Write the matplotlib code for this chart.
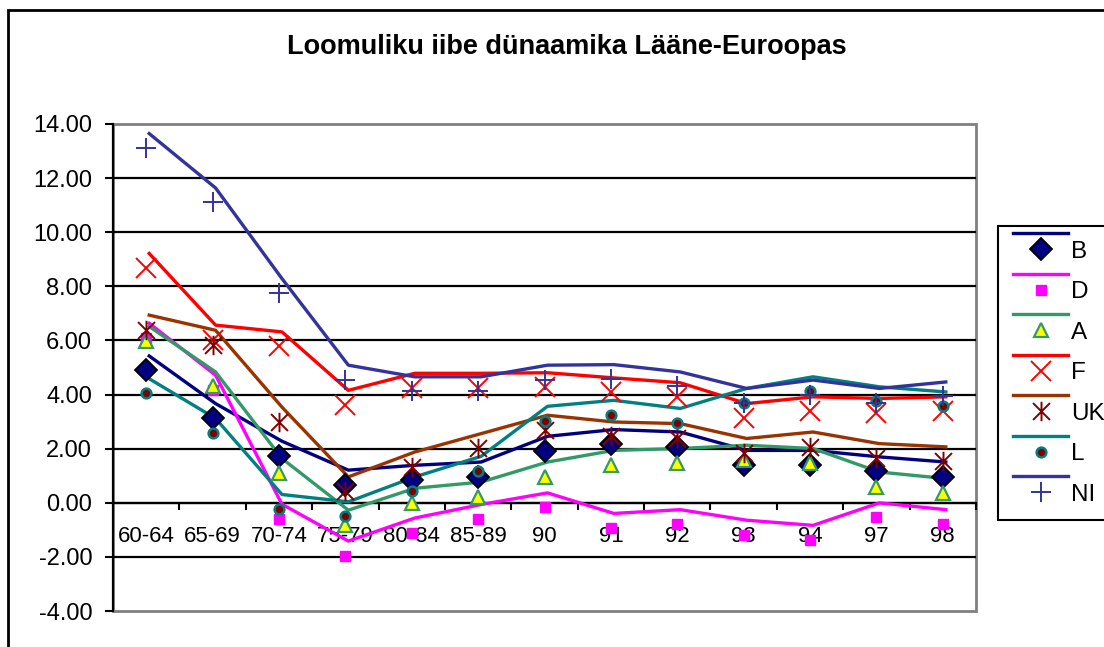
import matplotlib
matplotlib.use("Agg")
import matplotlib.pyplot as plt
import matplotlib.transforms as mtransforms
from matplotlib.lines import Line2D
from matplotlib.path import Path
from matplotlib.patches import Rectangle
from matplotlib.legend_handler import HandlerBase
from matplotlib.ticker import FormatStrFormatter, FixedLocator

plt.rcParams['font.family'] = ['Liberation Sans', 'DejaVu Sans']
plt.rcParams['axes.unicode_minus'] = False

title = "Loomuliku iibe dünaamika Lääne-Euroopas"
categories = ["60-64", "65-69", "70-74", "75-79", "80-84", "85-89",
              "90", "91", "92", "93", "94", "97", "98"]

B  = [4.89, 3.13, 1.74, 0.67, 0.85, 0.97, 1.92, 2.17, 2.08, 1.40, 1.40, 1.16, 0.97]
D  = [6.10, 4.18, -0.59, -1.95, -1.10, -0.60, -0.17, -0.93, -0.79, -1.18, -1.37, -0.54, -0.79]
A  = [5.98, 4.30, 1.10, -0.81, 0.00, 0.23, 0.97, 1.40, 1.47, 1.59, 1.47, 0.60, 0.36]
F  = [8.68, 6.03, 5.78, 3.62, 4.25, 4.25, 4.27, 4.08, 3.90, 3.13, 3.38, 3.32, 3.38]
UK = [6.40, 5.84, 3.00, 0.42, 1.34, 2.02, 2.70, 2.45, 2.39, 1.84, 2.08, 1.65, 1.53]
L  = [4.05, 2.58, -0.23, -0.50, 0.42, 1.18, 3.03, 3.25, 2.95, 3.69, 4.12, 3.75, 3.56]
NI = [13.11, 11.10, 7.75, 4.55, 4.12, 4.12, 4.55, 4.57, 4.30, 3.69, 4.00, 3.69, 3.93]

series_names = ["B", "D", "A", "F", "UK", "L", "NI"]
series_values = [B, D, A, F, UK, L, NI]

# asterisk marker: X with vertical bar
ast_path = Path([(-1, -1), (1, 1), (-1, 1), (1, -1), (0, -1.15), (0, 1.15)],
                [Path.MOVETO, Path.LINETO, Path.MOVETO, Path.LINETO, Path.MOVETO, Path.LINETO])

line_styles = [
    dict(color="#000080"),
    dict(color="#FF00FF"),
    dict(color="#339966"),
    dict(color="#FF0000"),
    dict(color="#993300"),
    dict(color="#008080"),
    dict(color="#333399"),
]
marker_styles = [
    dict(marker="D", markersize=11.5, markerfacecolor="#000080", markeredgecolor="black", markeredgewidth=1.3),
    dict(marker="s", markersize=7.5, markerfacecolor="#FF00FF", markeredgecolor="#FF00FF", markeredgewidth=1),
    dict(marker="^", markersize=10, markerfacecolor="#FFFF00", markeredgecolor="#339966", markeredgewidth=1.6),
    dict(marker="x", markersize=14, markeredgecolor="#FF0000", markerfacecolor="none", markeredgewidth=1.4),
    dict(marker=ast_path, markersize=14, markeredgecolor="#800000", markerfacecolor="none", markeredgewidth=1.4),
    dict(marker="o", markersize=7, markerfacecolor="#800000", markeredgecolor="#008080", markeredgewidth=1.8),
    dict(marker="+", markersize=15, markeredgecolor="#333399", markeredgewidth=1.4),
]

W, H = 1104, 647
fig = plt.figure(figsize=(W / 100, H / 100), dpi=100)
ax = fig.add_axes([113 / W, 1 - 611 / H, 863 / W, 487 / H])

x = list(range(len(categories)))
line_trans = mtransforms.offset_copy(ax.transData, fig=fig, x=3, y=14.5, units='dots')

handles = []
for name, vals, ls, ms in zip(series_names, series_values, line_styles, marker_styles):
    ln, = ax.plot(x, vals, linestyle='-', linewidth=2.4, transform=line_trans, zorder=3, **ls)
    mk, = ax.plot(x, vals, linestyle='none', zorder=4, clip_on=False, **ms)
    handles.append((ln, mk))

ax.set_xlim(-0.5, len(categories) - 0.5)
ax.set_ylim(-4, 14)
ax.yaxis.set_major_locator(FixedLocator([-4, -2, 0, 2, 4, 6, 8, 10, 12, 14]))
ax.yaxis.set_major_formatter(FormatStrFormatter('%.2f'))
ax.tick_params(axis='y', direction='out', length=6, width=1.5, color='black',
               labelsize=17, pad=9)
for t in [-2, 0, 2, 4, 6, 8, 10, 12]:
    ax.axhline(t, color='black', linewidth=1.6, zorder=1)

ax.spines['bottom'].set_position(('data', 0))
ax.spines['bottom'].set_color('black')
ax.spines['bottom'].set_linewidth(1.6)
ax.spines['left'].set_color('black')
ax.spines['left'].set_linewidth(1.6)
ax.spines['top'].set_visible(False)
ax.spines['right'].set_visible(False)
ax.add_patch(Rectangle((0, 0), 1, 1, transform=ax.transAxes, fill=False,
                       edgecolor='#808080', linewidth=2, zorder=0, clip_on=False))

ax.set_xticks(x)
ax.set_xticklabels(categories)
ax.set_xticks([i + 0.5 for i in range(len(categories))], minor=True)
ax.tick_params(axis='x', which='major', length=0, labelsize=16, pad=17)
ax.tick_params(axis='x', which='minor', direction='out', length=5, width=1.5, color='black')

fig.text(567 / W, 1 - 47 / H, title, ha='center', va='center', fontsize=19.5, fontweight='bold')

# outer chart frame
fig.patches.append(Rectangle((8 / W, -0.2), 2, 1.2 - 10 / H, transform=fig.transFigure,
                             fill=False, edgecolor='black', linewidth=2, zorder=10))


class StackedHandler(HandlerBase):
    def create_artists(self, legend, orig_handle, xdescent, ydescent, width, height, fontsize, trans):
        ln, mk = orig_handle
        yc = (height - ydescent) / 2
        dy = 11.5
        x0 = -xdescent
        x1 = width - xdescent
        l = Line2D([x0, x1], [yc + dy, yc + dy], color=ln.get_color(), linewidth=ln.get_linewidth())
        m = Line2D([(x0 + x1) / 2], [yc], linestyle='none', marker=mk.get_marker(),
                   markersize=mk.get_markersize(), markerfacecolor=mk.get_markerfacecolor(),
                   markeredgecolor=mk.get_markeredgecolor(), markeredgewidth=mk.get_markeredgewidth())
        l.set_transform(trans)
        m.set_transform(trans)
        return [l, m]


leg = fig.legend(handles, series_names, handler_map={tuple: StackedHandler()},
                 loc='upper left', bbox_to_anchor=(998 / W, 1 - 226 / H),
                 bbox_transform=fig.transFigure, borderaxespad=0, borderpad=0.6,
                 fontsize=17.5, handlelength=2.3, handleheight=0.7, labelspacing=0.76,
                 handletextpad=0.1, fancybox=False, framealpha=1)
leg.get_frame().set_edgecolor('black')
leg.get_frame().set_linewidth(1.5)

fig.savefig("out.png", dpi=100)
